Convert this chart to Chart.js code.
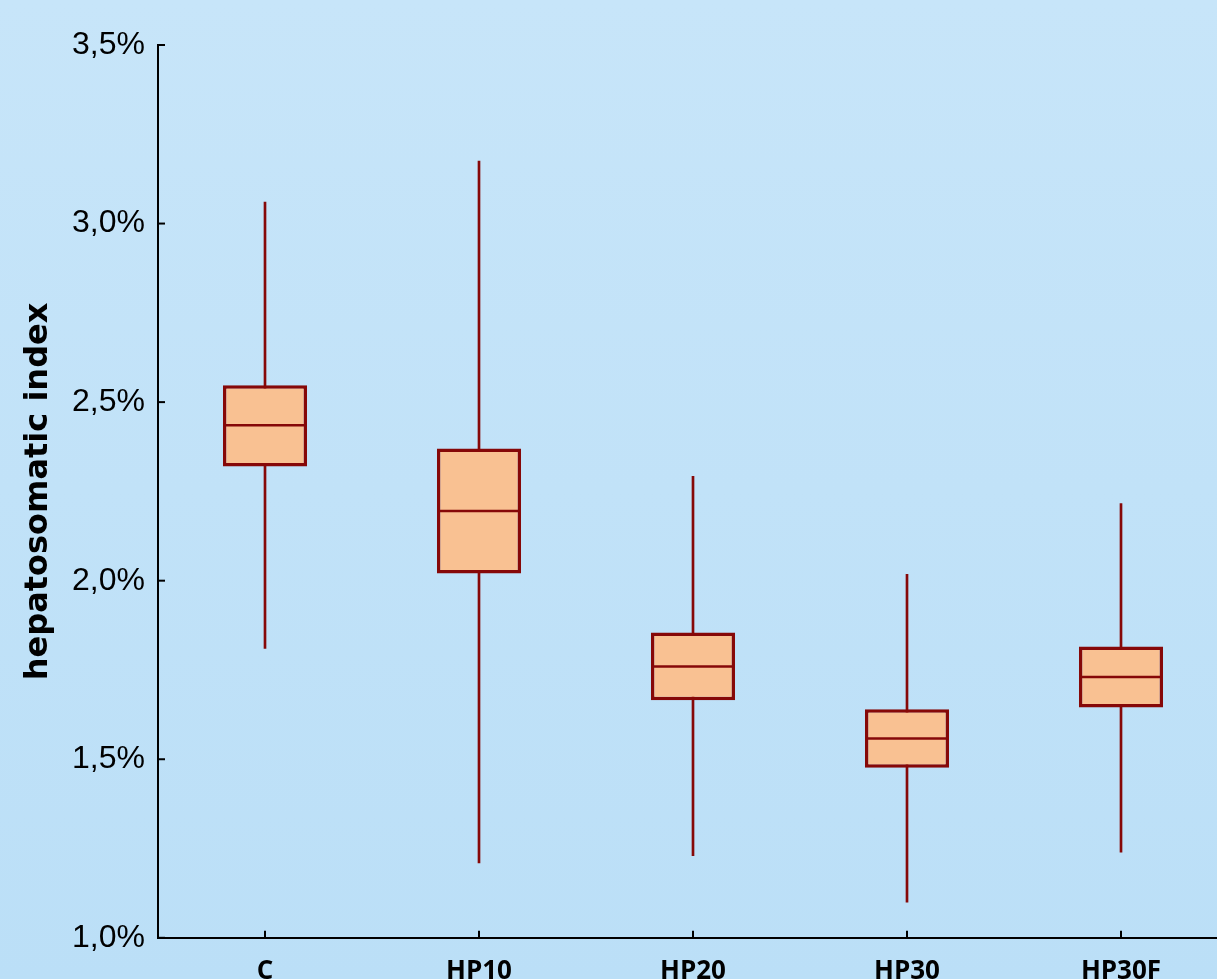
<!DOCTYPE html>
<html>
<head>
<meta charset="utf-8">
<script src="https://cdn.jsdelivr.net/npm/chart.js@4.4.1/dist/chart.umd.min.js"></script>
<style>
    html, body {
        margin: 0;
        padding: 0;
        overflow: hidden;
        width: 1217px;
        height: 979px;
        background: linear-gradient(to bottom, #c7e5f9, #bbdff7);
    }
    #wrap {
        position: absolute;
        left: 0;
        top: 0;
        width: 1228px;
        height: 1005px;
    }
</style>
</head>
<body>
<div id="wrap"><canvas id="hsiChart"></canvas></div>
<script>
// groups on the x axis
const groups = ['C', 'HP10', 'HP20', 'HP30', 'HP30F'];

// box plot values (percent)
const whiskerMin = [1.81, 1.21, 1.23, 1.10, 1.24];
const boxLow = [2.32, 2.02, 1.665, 1.476, 1.645];
const medians = [2.435, 2.195, 1.76, 1.558, 1.73];
const boxHigh = [2.547, 2.37, 1.855, 1.64, 1.816];
const whiskerMax = [3.06, 3.175, 2.292, 2.018, 2.216];

// y axis ticks
const yTicks = [1.0, 1.5, 2.0, 2.5, 3.0, 3.5];

const darkRed = '#860808';
const peach = '#f9c192';

// median lines and inward tick marks
const boxExtras = {
    id: 'boxExtras',
    afterDatasetsDraw(chart) {
        const ctx = chart.ctx;
        const y = chart.scales.y;
        const x = chart.scales.x;
        const boxes = chart.getDatasetMeta(1).data;

        ctx.save();
        ctx.strokeStyle = darkRed;
        ctx.lineWidth = 2.5;
        boxes.forEach((bar, i) => {
            const py = y.getPixelForValue(medians[i]);
            ctx.beginPath();
            ctx.moveTo(bar.x - bar.width / 2 + 2, py);
            ctx.lineTo(bar.x + bar.width / 2 - 2, py);
            ctx.stroke();
        });

        // ticks pointing into the plot
        ctx.strokeStyle = '#000';
        ctx.lineWidth = 2;
        const area = chart.chartArea;
        yTicks.forEach(v => {
            const py = y.getPixelForValue(v);
            ctx.beginPath();
            ctx.moveTo(area.left, py);
            ctx.lineTo(area.left + 7, py);
            ctx.stroke();
        });
        groups.forEach((g, i) => {
            const px = x.getPixelForValue(i);
            ctx.beginPath();
            ctx.moveTo(px, area.bottom);
            ctx.lineTo(px, area.bottom - 7);
            ctx.stroke();
        });
        ctx.restore();
    }
};

const ctx = document.getElementById('hsiChart').getContext('2d');

const hsiChart = new Chart(ctx, {
    type: 'bar',
    data: {
        labels: groups,
        datasets: [
            {
                label: 'whiskers',
                data: groups.map((g, i) => [whiskerMin[i], whiskerMax[i]]),
                backgroundColor: darkRed,
                barThickness: 2,
                grouped: false,
                order: 2
            },
            {
                label: 'boxes',
                data: groups.map((g, i) => [boxLow[i], boxHigh[i]]),
                backgroundColor: peach,
                borderColor: darkRed,
                borderWidth: 3.5,
                borderSkipped: false,
                categoryPercentage: 1,
                barPercentage: 0.393,
                grouped: false,
                order: 1
            }
        ]
    },
    options: {
        responsive: true,
        maintainAspectRatio: false,
        animation: false,
        layout: {
            padding: { top: 45, right: 0, left: 0, bottom: 0 }
        },
        plugins: {
            legend: { display: false },
            tooltip: { enabled: false }
        },
        scales: {
            x: {
                grid: { display: false, drawTicks: false },
                border: { display: true, color: '#000', width: 2 },
                ticks: {
                    padding: 18,
                    color: '#000',
                    font: { family: 'Open Sans', size: 26, weight: 'bold' }
                }
            },
            y: {
                min: 1.0,
                max: 3.5,
                afterFit(scale) {
                    scale.width = 158;
                },
                afterBuildTicks(scale) {
                    scale.ticks = yTicks.map(v => ({ value: v }));
                },
                grid: { display: false, drawTicks: false },
                border: { display: true, color: '#000', width: 2 },
                title: {
                    display: true,
                    text: 'hepatosomatic index',
                    color: '#000',
                    padding: { top: 19, bottom: 0 },
                    font: { family: 'DejaVu Sans', size: 32, weight: 'bold' }
                },
                ticks: {
                    padding: 13,
                    color: '#000',
                    font: { family: 'Liberation Sans', size: 32 },
                    callback: function(value) {
                        return value.toFixed(1).replace('.', ',') + '%';
                    }
                }
            }
        }
    },
    plugins: [boxExtras]
});
</script>
</body>
</html>
